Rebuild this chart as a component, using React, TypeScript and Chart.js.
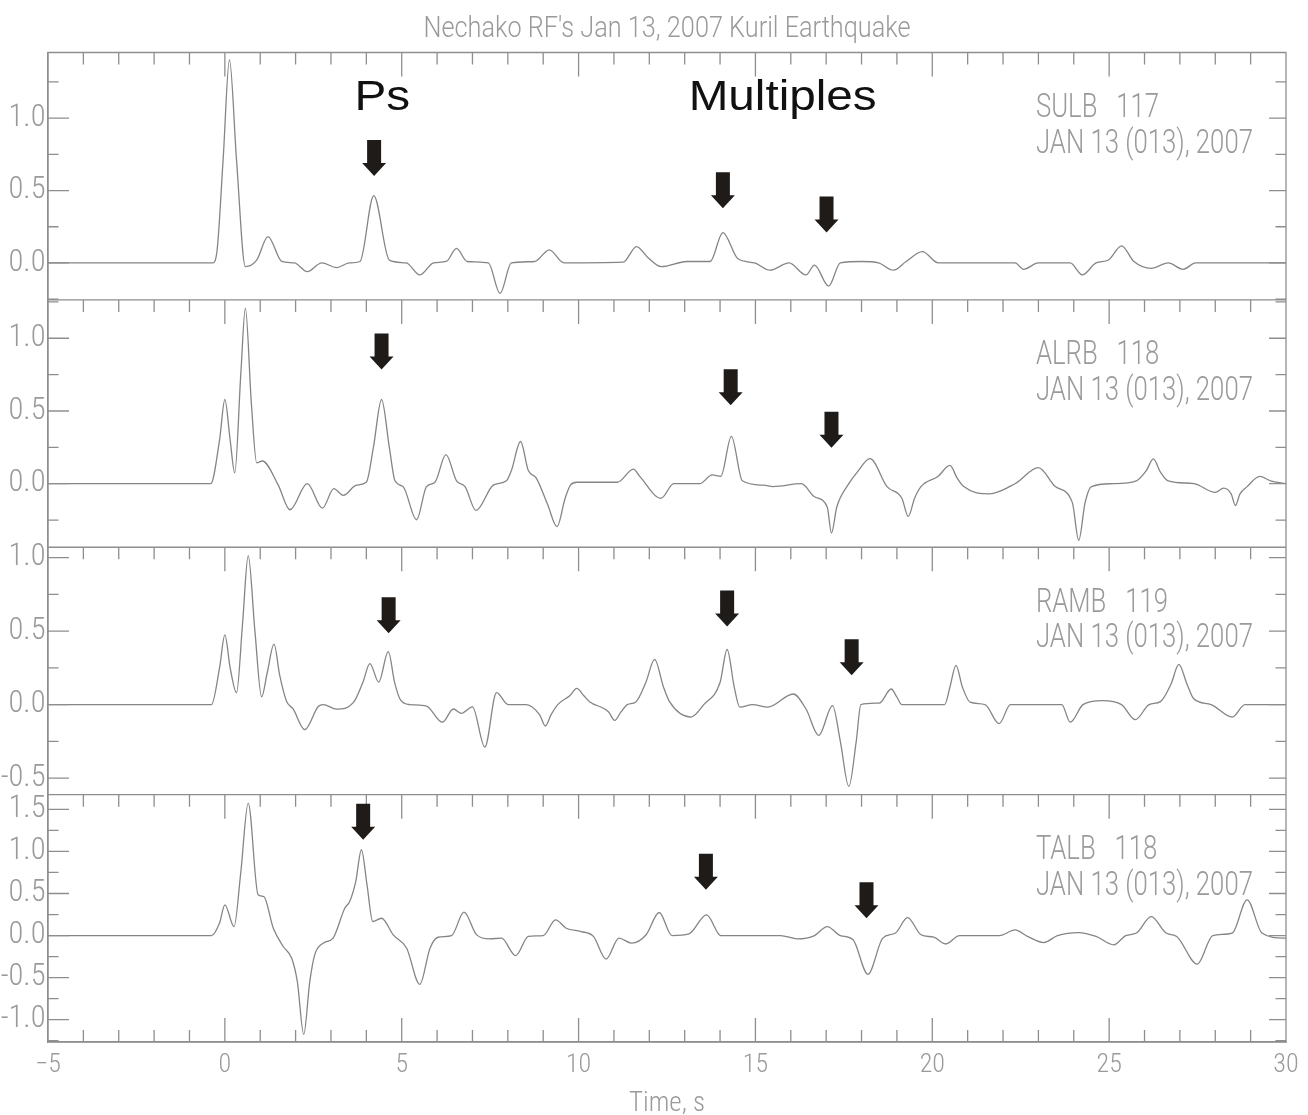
import React, { useEffect, useRef } from 'react';
import { Chart, registerables } from 'chart.js';

Chart.register(...registerables);

// ---------------- data ----------------
const sulbTime = [-5, -0.35, -0.23, -0.05, 0.13, 0.33, 0.58, 0.9, 1.22, 1.61, 1.97, 2.33, 2.74, 3.16, 3.52, 3.82, 4.21, 4.65, 5.13, 5.51, 5.9, 6.26, 6.55, 6.85, 7.45, 7.78, 8.1, 8.76, 9.17, 9.59, 11.26, 11.64, 11.95, 12.34, 13.06, 13.72, 14.08, 14.5, 14.98, 15.41, 15.95, 16.43, 16.67, 17.07, 17.4, 18.0, 18.48, 18.9, 19.26, 19.72, 20.17, 22.34, 22.58, 23.0, 23.9, 24.24, 24.63, 24.98, 25.35, 25.7, 26.19, 26.67, 27.09, 27.45, 30];
const sulbAmp = [0, 0, 0.067, 0.71, 1.403, 0.71, -0.025, 0.02, 0.182, 0.01, 0, -0.06, 0, -0.032, 0, 0.01, 0.465, 0.02, 0, -0.083, 0, 0.01, 0.1, 0.01, 0, -0.21, 0, 0.01, 0.09, 0, 0.005, 0.113, 0.04, -0.025, 0.01, 0.01, 0.21, 0.03, 0, -0.05, 0, -0.083, -0.015, -0.16, 0, 0.01, 0, -0.05, 0.01, 0.078, 0, 0, -0.044, 0, 0, -0.083, 0, 0.02, 0.118, 0.01, -0.037, 0, -0.044, 0, 0];

const alrbTime = [-5, -0.4, -0.15, 0, 0.15, 0.28, 0.45, 0.58, 0.75, 0.9, 1.06, 1.51, 1.84, 2.33, 2.76, 3.08, 3.35, 3.72, 4.0, 4.2, 4.43, 4.65, 4.81, 5.04, 5.42, 5.7, 5.94, 6.25, 6.55, 6.79, 7.1, 7.59, 7.96, 8.1, 8.36, 8.58, 8.8, 9.12, 9.39, 9.62, 9.77, 9.95, 11.1, 11.55, 11.73, 12.33, 12.69, 13.42, 13.78, 14.02, 14.32, 14.63, 15.23, 15.5, 16.3, 16.67, 17.03, 17.15, 17.3, 17.64, 17.88, 18.24, 18.72, 19.14, 19.32, 19.5, 19.68, 20.16, 20.5, 20.7, 20.89, 21.61, 22.34, 23.0, 23.48, 23.96, 24.14, 24.32, 24.5, 25.1, 25.77, 26.05, 26.25, 26.45, 26.67, 27.4, 28.0, 28.24, 28.45, 28.57, 28.7, 28.9, 29.26, 29.56, 30];
const alrbAmp = [0, 0, 0.3, 0.579, 0.3, 0.074, 0.75, 1.207, 0.55, 0.143, 0.156, -0.01, -0.179, 0.0, -0.168, -0.034, -0.08, -0.01, 0.01, 0.25, 0.579, 0.25, 0.02, -0.02, -0.248, -0.02, 0.01, 0.2, 0.02, -0.02, -0.184, -0.01, 0.02, 0.09, 0.29, 0.09, 0.04, -0.14, -0.295, -0.1, -0.01, 0.01, 0.01, 0.1, 0.05, -0.1, 0.0, 0.0, 0.06, 0.05, 0.326, 0.02, -0.01, -0.02, 0.0, -0.09, -0.16, -0.34, -0.16, 0.0, 0.08, 0.172, -0.02, -0.1, -0.225, -0.1, -0.02, 0.05, 0.126, 0.04, -0.02, -0.07, 0.0, 0.11, -0.02, -0.13, -0.39, -0.13, -0.02, 0.0, 0.02, 0.09, 0.17, 0.08, 0.02, 0.0, -0.06, -0.03, -0.07, -0.15, -0.07, -0.02, 0.05, 0.02, 0.0];

const rambTime = [-5, -0.38, -0.15, 0, 0.15, 0.33, 0.5, 0.66, 0.85, 1.04, 1.2, 1.39, 1.55, 1.74, 1.93, 2.26, 2.64, 2.78, 3.16, 3.63, 3.9, 4.1, 4.35, 4.62, 4.8, 4.97, 5.23, 5.7, 6.15, 6.46, 6.69, 7.0, 7.35, 7.68, 8.01, 8.52, 8.9, 9.06, 9.22, 9.41, 9.75, 9.95, 10.15, 10.31, 10.85, 11.02, 11.2, 11.38, 11.61, 11.9, 12.15, 12.4, 12.58, 13.18, 13.54, 14.0, 14.2, 14.4, 14.56, 14.92, 15.35, 16.07, 16.43, 16.79, 17.18, 17.4, 17.64, 17.85, 17.98, 18.5, 18.84, 19.0, 19.14, 20.35, 20.5, 20.67, 20.85, 21.07, 21.49, 21.89, 22.21, 23.66, 23.9, 24.26, 24.8, 25.35, 25.74, 26.13, 26.45, 26.75, 26.97, 27.2, 27.39, 27.88, 28.48, 28.84, 30];
const rambAmp = [0, 0, 0.25, 0.474, 0.25, 0.081, 0.55, 1.013, 0.5, 0.052, 0.22, 0.411, 0.2, 0.025, -0.03, -0.171, -0.013, 0, -0.031, 0.013, 0.15, 0.279, 0.153, 0.36, 0.15, 0.03, 0, -0.01, -0.12, -0.03, -0.06, -0.015, -0.29, 0.081, 0, 0, -0.07, -0.146, -0.07, 0, 0.06, 0.11, 0.06, 0.02, -0.05, -0.108, -0.05, 0, 0.016, 0.15, 0.308, 0.12, 0.016, -0.085, 0, 0.15, 0.375, 0.12, -0.018, 0, -0.018, 0.072, -0.03, -0.209, -0.007, -0.25, -0.557, -0.25, 0, 0.01, 0.106, 0.05, 0, 0, 0.12, 0.267, 0.12, 0.016, 0, -0.13, 0, 0, -0.12, 0, 0.027, 0, -0.103, 0, 0.02, 0.14, 0.274, 0.14, 0.04, 0, -0.085, 0, 0];

const talbTime = [-5, -0.38, -0.15, 0, 0.26, 0.45, 0.66, 0.94, 1.1, 1.37, 1.65, 1.89, 2.05, 2.23, 2.4, 2.54, 2.78, 3.06, 3.39, 3.53, 3.7, 3.86, 4.02, 4.18, 4.43, 4.76, 5.14, 5.51, 5.8, 6.03, 6.41, 6.76, 7.12, 7.49, 7.82, 8.22, 8.58, 9.0, 9.35, 9.65, 10.07, 10.42, 10.78, 11.14, 11.5, 11.91, 12.28, 12.64, 13.12, 13.62, 14.02, 15.71, 16.19, 16.67, 17.03, 17.4, 17.76, 18.18, 18.6, 18.96, 19.3, 19.68, 20.04, 20.38, 20.77, 21.9, 22.34, 22.69, 23.15, 23.54, 24.14, 24.63, 25.13, 25.47, 25.77, 26.19, 26.61, 26.91, 27.49, 27.93, 28.48, 28.9, 29.32, 29.93, 30];
const talbAmp = [0, 0, 0.15, 0.365, 0.107, 0.75, 1.575, 0.484, 0.464, 0.087, -0.13, -0.27, -0.55, -1.175, -0.55, -0.23, -0.09, -0.03, 0.325, 0.405, 0.64, 1.02, 0.6, 0.167, 0.206, 0.008, -0.15, -0.58, -0.15, -0.02, 0, 0.278, 0.008, -0.04, -0.03, -0.238, -0.01, 0, 0.187, 0.087, 0.048, -0.01, -0.28, -0.03, -0.09, 0.01, 0.274, 0, 0.02, 0.246, 0, 0, -0.04, 0, 0.107, 0, -0.05, -0.46, -0.03, 0.03, 0.214, 0.01, -0.02, -0.1, 0, 0, 0.067, -0.01, -0.083, 0, 0.036, -0.01, -0.11, 0, 0.03, 0.226, 0.03, -0.01, -0.34, 0, 0.03, 0.425, 0.03, -0.03, -0.03];

const stationNames = ['SULB   117', 'ALRB   118', 'RAMB   119', 'TALB   118'];
const stationDate = 'JAN 13 (013), 2007';
const panelMin = [-0.255, -0.437, -0.613, -1.265];
const panelMax = [1.453, 1.264, 1.071, 1.675];

// arrows: panel index, time of the arrow, amplitude at its tip
const arrowPanel = [0, 0, 0, 1, 1, 1, 2, 2, 2, 3, 3, 3];
const arrowTime = [4.22, 14.08, 17.01, 4.43, 14.3, 17.15, 4.63, 14.2, 17.72, 3.91, 13.6, 18.14];
const arrowTip = [0.6, 0.378, 0.21, 0.786, 0.54, 0.248, 0.485, 0.532, 0.2, 1.14, 0.544, 0.207];

const noteText = ['Ps', 'Multiples'];
const noteTime = [4.45, 15.77];
const noteAmp = [1.057, 1.057];

const chartTitle = "Nechako RF's Jan 13, 2007 Kuril Earthquake";
const xTitle = 'Time, s';
const stationLabelTime = 22.93;

// ---------------- styles ----------------
const PANEL_IDS = ['y1', 'y2', 'y3', 'y4'];
const AXIS_COLOR = '#8e8e8e';
const TEXT_COLOR = '#9a9a9a';
const TRACE_COLOR = '#858585';
const ARROW_COLOR = '#1f1b19';
const LINE_W = 1.3;
const TICK_FAMILY = "'Roboto Condensed', Roboto, sans-serif";
const TITLE_FONT = "300 30px Roboto, sans-serif";
const STATION_FONT = "300 33px Roboto, sans-serif";
const NOTE_FONT = "43px 'Liberation Sans', Arial, sans-serif";

const isMult = (v: number, m: number) => Math.abs(v / m - Math.round(v / m)) < 1e-6;

function drawSquashed(ctx: CanvasRenderingContext2D, text: string, x: number, y: number, sx: number, align: CanvasTextAlign) {
  ctx.save();
  ctx.translate(x, y);
  ctx.scale(sx, 1);
  ctx.textAlign = align;
  ctx.textBaseline = 'alphabetic';
  ctx.fillText(text, 0, 0);
  ctx.restore();
}

const decorPlugin = {
  id: 'seisDecor',
  afterDraw(chart: any) {
    const { ctx, chartArea: area, scales } = chart;
    const xs = scales.x;
    ctx.save();
    ctx.strokeStyle = AXIS_COLOR;
    ctx.lineWidth = LINE_W;
    ctx.beginPath();
    PANEL_IDS.forEach((id, i) => {
      const ys = scales[id];
      ctx.rect(area.left, ys.top, area.right - area.left, ys.bottom - ys.top);
      for (const tk of xs.ticks) {
        const px = xs.getPixelForValue(tk.value);
        const len = isMult(tk.value, 5) ? 24 : 12;
        ctx.moveTo(px, ys.top);
        ctx.lineTo(px, ys.top + len);
        if (i === PANEL_IDS.length - 1) {
          ctx.moveTo(px, ys.bottom);
          ctx.lineTo(px, ys.bottom - len);
        }
      }
      for (const tk of ys.ticks) {
        const py = ys.getPixelForValue(tk.value);
        const major = isMult(tk.value, 0.5);
        ctx.moveTo(area.left, py);
        ctx.lineTo(area.left + (major ? 21 : 10.5), py);
        ctx.moveTo(area.right, py);
        ctx.lineTo(area.right - (major ? 17 : 10.5), py);
      }
    });
    ctx.stroke();

    // arrows
    ctx.fillStyle = ARROW_COLOR;
    arrowTime.forEach((t, k) => {
      const ys = scales[PANEL_IDS[arrowPanel[k]]];
      const cx = xs.getPixelForValue(t);
      const tip = ys.getPixelForValue(arrowTip[k]);
      ctx.beginPath();
      ctx.moveTo(cx - 7, tip - 36);
      ctx.lineTo(cx + 7, tip - 36);
      ctx.lineTo(cx + 7, tip - 13);
      ctx.lineTo(cx + 12, tip - 13);
      ctx.lineTo(cx, tip);
      ctx.lineTo(cx - 12, tip - 13);
      ctx.lineTo(cx - 7, tip - 13);
      ctx.closePath();
      ctx.fill();
    });

    // title
    ctx.fillStyle = TEXT_COLOR;
    ctx.font = TITLE_FONT;
    const tw = ctx.measureText(chartTitle).width;
    drawSquashed(ctx, chartTitle, (area.left + area.right) / 2, 36.7, 487 / tw, 'center');

    // station labels
    ctx.font = STATION_FONT;
    const dw = ctx.measureText(stationDate).width;
    const ssx = 217 / dw;
    const lx = xs.getPixelForValue(stationLabelTime);
    PANEL_IDS.forEach((id, i) => {
      const ys = scales[id];
      drawSquashed(ctx, stationNames[i], lx, ys.top + 64.5, ssx, 'left');
      drawSquashed(ctx, stationDate, lx, ys.top + 100, ssx, 'left');
    });

    // Ps / Multiples
    ctx.fillStyle = '#111111';
    ctx.font = NOTE_FONT;
    const nsx = 188 / ctx.measureText('Multiples').width;
    const y1 = scales[PANEL_IDS[0]];
    noteText.forEach((txt, k) => {
      drawSquashed(ctx, txt, xs.getPixelForValue(noteTime[k]), y1.getPixelForValue(noteAmp[k]), nsx, 'center');
    });
    ctx.restore();
  },
};

function buildChart(canvas: HTMLCanvasElement) {
  const series = [
    { time: sulbTime, amp: sulbAmp },
    { time: alrbTime, amp: alrbAmp },
    { time: rambTime, amp: rambAmp },
    { time: talbTime, amp: talbAmp },
  ];
  const datasets = series.map((s, i) => ({
    label: stationNames[i],
    data: s.time.map((t, k) => ({ x: t, y: s.amp[k] })),
    xAxisID: 'x',
    yAxisID: PANEL_IDS[i],
    borderColor: TRACE_COLOR,
    borderWidth: LINE_W,
    pointRadius: 0,
    fill: false,
    cubicInterpolationMode: 'monotone' as const,
  }));

  const scales: any = {
    x: {
      type: 'linear',
      position: 'bottom',
      min: -5,
      max: 30,
      border: { display: true, color: AXIS_COLOR, width: LINE_W },
      grid: { display: false, drawTicks: false },
      ticks: {
        stepSize: 1,
        maxTicksLimit: 100,
        autoSkip: false,
        maxRotation: 0,
        padding: 8,
        color: TEXT_COLOR,
        font: { family: TICK_FAMILY, size: 26, weight: '300' },
        callback: (v: number) => (isMult(v, 5) ? (v < 0 ? '\u2212' : '') + Math.abs(v).toFixed(0) : ''),
      },
      title: {
        display: true,
        text: xTitle,
        color: TEXT_COLOR,
        font: { family: TICK_FAMILY, size: 27, weight: '300', lineHeight: 0.8 },
        padding: { top: 0, bottom: 0 },
      },
      afterFit: (s: any) => {
        s.height = 73;
      },
    },
  };
  PANEL_IDS.forEach((id, i) => {
    scales[id] = {
      type: 'linear',
      position: 'left',
      stack: 'panels',
      stackWeight: 1,
      weight: PANEL_IDS.length - i,
      min: panelMin[i],
      max: panelMax[i],
      border: { display: true, color: AXIS_COLOR, width: LINE_W },
      grid: { display: false, drawTicks: false },
      ticks: {
        stepSize: 0.25,
        includeBounds: false,
        autoSkip: false,
        padding: 2.5,
        color: TEXT_COLOR,
        font: { family: TICK_FAMILY, size: 30.5, weight: '300' },
        callback: (v: number) => (isMult(v, 0.5) ? v.toFixed(1) : ''),
      },
      afterFit: (s: any) => {
        s.width = 48;
      },
    };
  });

  return new Chart(canvas, {
    type: 'line',
    data: { datasets },
    options: {
      animation: false,
      responsive: false,
      devicePixelRatio: 1,
      events: [],
      layout: { padding: { top: 52.5, right: 22, bottom: 0, left: 0 } },
      plugins: { legend: { display: false }, tooltip: { enabled: false }, title: { display: false } },
      scales,
    },
    plugins: [decorPlugin],
  } as any);
}

export default function App() {
  const ref = useRef<HTMLCanvasElement>(null);
  useEffect(() => {
    const chart = buildChart(ref.current!);
    return () => chart.destroy();
  }, []);
  return (
    <div style={{ position: 'absolute', left: 0, top: 0, width: 1308, height: 1115, overflow: 'hidden', background: '#ffffff' }}>
      <canvas ref={ref} width={1308} height={1115} style={{ display: 'block', width: 1308, height: 1115 }} />
    </div>
  );
}
